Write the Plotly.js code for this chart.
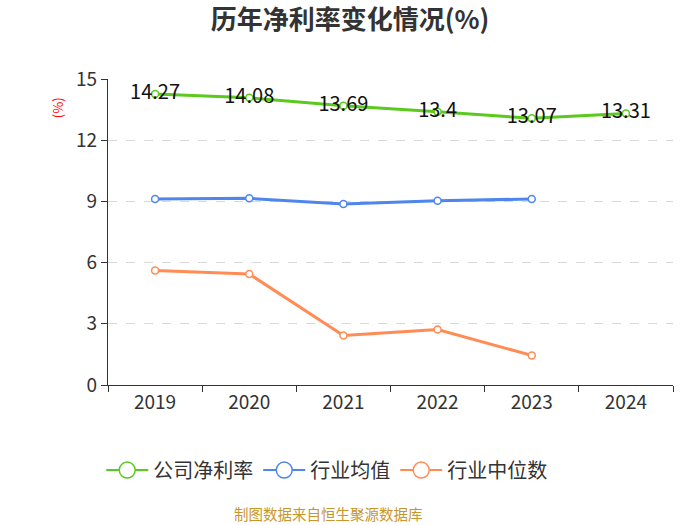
<!DOCTYPE html>
<html><head><meta charset="utf-8">
<script src="https://cdn.plot.ly/plotly-3.0.1.min.js"></script>
<style>body{margin:0;background:#fff}#c{width:700px;height:525px}</style>
</head><body><div id="c"></div>
<script>
var years = ['2019','2020','2021','2022','2023','2024'];
var companyRate = [14.27, 14.08, 13.69, 13.4, 13.07, 13.31];
var industryAvg = [9.12, 9.15, 8.87, 9.03, 9.12, null];
var industryMedian = [5.61, 5.44, 2.43, 2.72, 1.45, null];
var seriesNames = ['公司净利率', '行业均值', '行业中位数'];
var colors = ['#5cc91e', '#4f86ec', '#ff8c55'];
var font = '"Noto Sans CJK SC", "Noto Sans", sans-serif';

function line(y, i, withText) {
  var t = {
    x: years, y: y, type: 'scatter', mode: withText ? 'lines+markers+text' : 'lines+markers',
    name: seriesNames[i], showlegend: false, connectgaps: false,
    line: {color: colors[i], width: 3},
    marker: {size: 7, color: '#fff', line: {color: colors[i], width: 1.5}},
    hoverinfo: 'x+y'
  };
  if (withText) {
    t.text = y.map(function(v){return String(v);});
    t.textposition = 'middle center';
    t.textfont = {family: font, size: 20, color: '#111'};
  }
  return t;
}
function legendItem(i) {
  return {x: [null], y: [null], type: 'scatter', mode: 'lines+markers', name: seriesNames[i],
    line: {color: colors[i], width: 2},
    marker: {size: 19, color: '#fff', line: {color: colors[i], width: 1.5}}};
}
var data = [line(industryMedian, 2, false), line(industryAvg, 1, false), line(companyRate, 0, true),
  legendItem(0), legendItem(1), legendItem(2)];

var layout = {
  width: 700, height: 525,
  margin: {l: 108, r: 27, t: 79, b: 140},
  paper_bgcolor: '#fff', plot_bgcolor: '#fff',
  font: {family: font, color: '#333'},
  title: {text: '<b>历年净利率变化情况(%)</b>', x: 0.5, xanchor: 'center', y: 0.962, yanchor: 'middle',
    font: {family: font, size: 26, color: '#333'}},
  xaxis: {
    type: 'category', tickson: 'boundaries', ticks: 'outside', ticklen: 6, tickcolor: '#333',
    showline: true, linecolor: '#333', linewidth: 1.2, showgrid: false,
    tickfont: {family: font, size: 19, color: '#333'}, range: [-0.5, 5.5], fixedrange: true
  },
  yaxis: {
    range: [0, 15], tickvals: [0, 3, 6, 9, 12, 15], ticks: 'outside', ticklen: 6, tickcolor: '#333',
    showline: true, linecolor: '#333', linewidth: 1.2, zeroline: false,
    showgrid: true, gridcolor: '#d9d9d9', griddash: 'dash', gridwidth: 1,
    tickfont: {family: font, size: 19, color: '#333'}
  },
  legend: {orientation: 'h', x: -0.012, xanchor: 'left', y: -0.278, yanchor: 'middle',
    font: {family: font, size: 20, color: '#333'}, itemwidth: 42, traceorder: 'normal'},
  annotations: [
    {text: '制图数据来自恒生聚源数据库', xref: 'paper', yref: 'paper', x: 0.39, y: -0.42,
      xanchor: 'center', yanchor: 'middle', showarrow: false,
      font: {family: font, size: 14.5, color: '#c8962a'}},
    {text: '(%)', xref: 'paper', yref: 'paper', x: -0.09, y: 0.905, xanchor: 'center', yanchor: 'middle',
      textangle: -90, showarrow: false, font: {family: font, size: 13, color: '#ff0000'}}
  ]
};
Plotly.newPlot('c', data, layout, {displayModeBar: false, staticPlot: true});
</script></body></html>
